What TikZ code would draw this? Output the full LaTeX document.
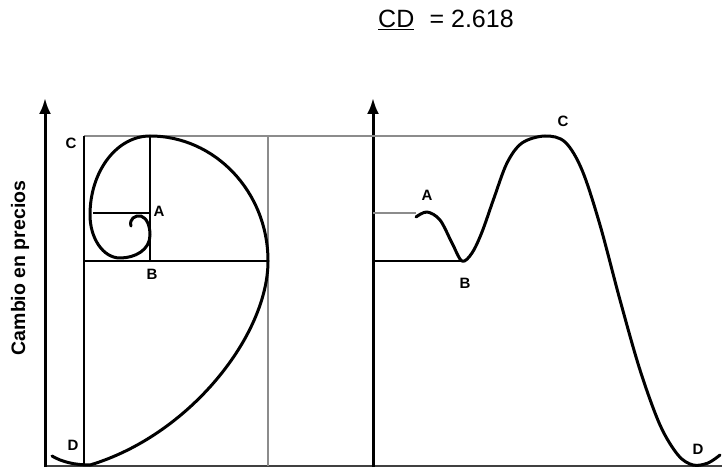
\documentclass[tikz,border=0pt]{standalone}
\usepackage{fontspec}
\setmainfont{Liberation Sans}
\usetikzlibrary{arrows.meta}
\tikzset{
  axis/.style={line width=3pt,-{Latex[length=16pt,width=12pt]}},
  baseaxis/.style={line width=2.4pt,black!75},
  curve/.style={line width=3pt,line cap=round,line join=round},
  blk/.style={line width=2.2pt},
  thinblk/.style={line width=1.7pt},
  guide/.style={line width=2.2pt,black!45},
  lbl/.style={font=\fontsize{15}{15}\selectfont\bfseries,inner sep=0pt},
}
\begin{document}
\begin{tikzpicture}[x=1pt,y=-1pt]
\useasboundingbox (0,0) rectangle (722,470);
% title
\node[inner sep=0pt,anchor=base west,font=\fontsize{25}{25}\selectfont] (title) at (378,28) {\underline{CD}\,\, = 2.618};
% axis label
\node[rotate=90,inner sep=0pt,font=\fontsize{19.5}{19.5}\selectfont\bfseries] (ylab) at (20,268) {Cambio en precios};
% base axis
\draw[baseaxis] (45,466) -- (722,466);
% axes
\draw[axis] (45,467) -- (45,98);
\draw[axis] (373,467) -- (373,98);
% guide lines
\draw[guide] (84,136) -- (548,136);
\draw[guide] (268,136) -- (268,466);
\draw[guide] (373,213) -- (416,213);
% golden rectangles
\draw[blk] (84,136) -- (84,466);
\draw[blk] (84,261) -- (268,261);
\draw[blk] (150,136) -- (150,261);
\draw[thinblk] (93,213) -- (150,213);
\draw[blk] (373,261) -- (462,261);
% spiral
\draw[curve] (131,226) .. controls (129,219) and (135,215) .. (141,216)
  .. controls (147,218) and (150,226) .. (150,235)
  .. controls (150,250) and (135,258) .. (120,258)
  .. controls (103,258) and (90,238) .. (90,215)
  .. controls (90,171) and (117,136) .. (150,136)
  .. controls (215,136) and (268,192) .. (268,261)
  .. controls (268,335) and (190,435) .. (90,465)
  .. controls (75,465) and (62,462) .. (52,456);
% price curve
\draw[curve] plot[smooth,tension=0.55] coordinates {
  (416,217) (427,212) (440,220) (452,243) (462,261) (472,253) (482,232)
  (494,198) (507,163) (522,143) (545,136) (565,142) (582,170)
  (600,225) (620,300) (640,370) (660,425) (678,455) (693,465) (708,463) (720,455)};
% labels
\node[lbl] (c1) at (71,143) {C};
\node[lbl] (a1) at (159,211) {A};
\node[lbl] (b1) at (152,274) {B};
\node[lbl] (d1) at (73,445) {D};
\node[lbl] (a2) at (427,195) {A};
\node[lbl] (b2) at (465,283) {B};
\node[lbl] (c2) at (563,121) {C};
\node[lbl] (d2) at (698,449) {D};
\end{tikzpicture}
\end{document}
